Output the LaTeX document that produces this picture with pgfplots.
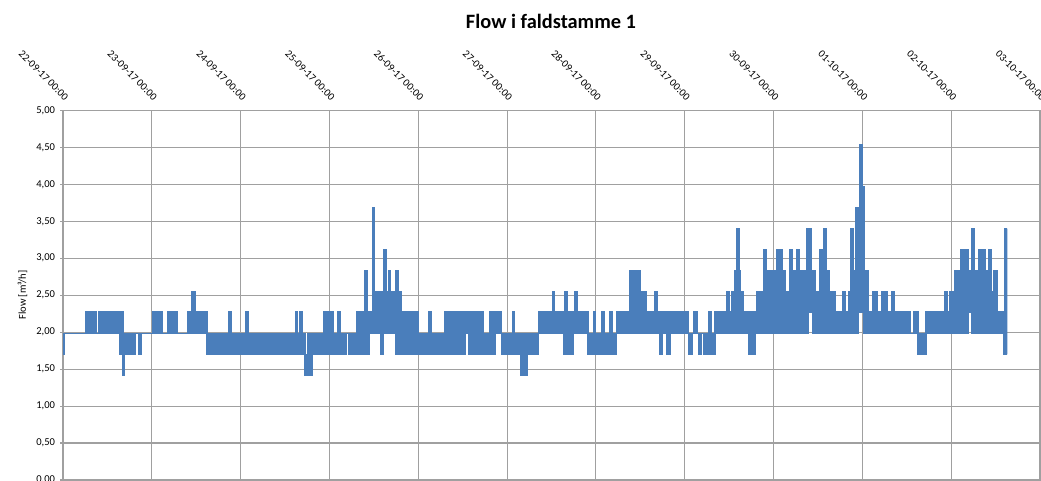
\documentclass[border=0pt]{standalone}
\usepackage{fontspec}
\setmainfont{Carlito}
\usepackage{pgfplots}
\pgfplotsset{compat=1.18}
\usepackage{pgfplotstable}
\usepgfplotslibrary{fillbetween}
\definecolor{flowblue}{HTML}{4A7EBB}
\definecolor{gridgray}{HTML}{A0A0A0}
% envelope of the flow series: segment start (days from 22-09-17 00:00), lowest and highest value
\pgfplotstableread{
x lo hi
0.000 1.70 1.98
0.011 1.98 1.98
0.259 1.98 2.27
0.372 1.98 1.98
0.405 1.98 2.27
0.642 1.70 1.98
0.653 1.70 2.27
0.676 1.42 1.98
0.693 1.70 1.98
0.811 1.98 1.98
0.856 1.70 1.98
0.878 1.98 1.98
1.014 1.98 2.27
1.115 1.98 1.98
1.182 1.98 2.27
1.284 1.98 1.98
1.408 1.98 2.27
1.453 1.98 2.55
1.486 1.98 2.27
1.622 1.70 1.98
1.869 1.70 2.27
1.892 1.70 1.98
2.061 1.70 2.27
2.089 1.70 1.98
2.620 1.70 2.27
2.643 1.70 1.98
2.669 1.70 2.27
2.695 1.70 1.98
2.717 1.42 1.98
2.731 1.42 1.70
2.759 1.42 1.98
2.807 1.70 1.98
2.939 1.70 2.27
3.044 1.70 1.98
3.097 1.70 2.27
3.123 1.70 1.98
3.195 1.98 1.98
3.213 1.70 1.98
3.311 1.70 2.27
3.401 1.70 2.83
3.429 1.70 2.27
3.449 1.98 2.27
3.483 1.98 3.68
3.510 1.98 2.55
3.578 1.70 2.55
3.607 1.98 2.55
3.615 1.98 3.12
3.641 1.98 2.55
3.668 1.98 2.83
3.690 1.98 2.55
3.750 1.70 2.83
3.776 1.70 2.55
3.814 1.70 2.27
4.001 1.70 1.98
4.122 1.70 2.27
4.144 1.70 1.98
4.302 1.70 2.27
4.434 1.98 2.27
4.452 1.70 2.27
4.527 1.98 2.27
4.564 1.70 2.27
4.733 1.70 1.98
4.809 1.70 2.27
4.865 1.98 2.27
4.940 1.70 1.98
5.060 1.70 2.27
5.082 1.70 1.98
5.158 1.42 1.98
5.195 1.42 1.70
5.211 1.42 1.98
5.229 1.70 1.98
5.353 1.98 2.27
5.510 1.98 2.55
5.533 1.98 2.27
5.634 1.70 2.27
5.653 1.70 2.55
5.679 1.70 2.27
5.747 1.98 2.27
5.766 1.98 2.55
5.796 1.98 2.27
5.909 1.70 1.98
5.972 1.70 2.27
5.991 1.70 1.98
6.066 1.70 2.27
6.092 1.70 1.98
6.152 1.70 2.27
6.179 1.70 1.98
6.235 1.98 2.27
6.385 1.98 2.83
6.419 1.98 2.55
6.441 1.98 2.83
6.498 1.98 2.55
6.520 1.98 2.27
6.535 1.98 2.55
6.562 1.98 2.27
6.659 1.98 2.55
6.693 1.98 2.27
6.723 1.70 2.27
6.742 1.98 2.27
6.798 1.70 2.27
6.836 1.98 2.27
7.042 1.70 1.98
7.080 1.98 1.98
7.098 1.98 2.27
7.143 1.98 1.98
7.154 1.70 1.98
7.181 1.98 1.98
7.211 1.70 1.98
7.271 1.70 2.27
7.294 1.70 1.98
7.342 1.98 2.27
7.474 1.98 2.55
7.497 1.98 2.27
7.530 1.98 2.55
7.568 1.98 2.83
7.587 1.98 3.40
7.613 1.98 2.83
7.624 1.98 2.55
7.661 1.98 2.27
7.717 1.70 2.27
7.793 1.98 2.27
7.812 1.98 2.55
7.838 1.98 2.27
7.849 1.98 2.55
7.894 1.98 3.12
7.917 1.98 2.83
8.037 1.98 3.12
8.093 1.98 2.83
8.131 1.98 2.55
8.187 1.98 3.12
8.213 1.98 2.83
8.263 1.98 3.12
8.288 1.98 2.83
8.375 1.98 3.40
8.393 2.27 3.40
8.420 2.27 2.83
8.442 1.98 2.83
8.468 1.98 2.55
8.517 1.98 3.12
8.544 1.98 2.83
8.562 1.98 3.40
8.589 1.98 2.83
8.626 1.98 2.55
8.694 1.98 2.27
8.780 1.98 2.55
8.806 1.98 2.27
8.843 1.98 2.55
8.870 1.98 3.40
8.900 1.98 2.83
8.930 1.98 3.68
8.953 2.27 3.40
8.975 2.27 4.53
8.998 2.27 3.97
9.020 1.98 2.83
9.069 1.98 2.27
9.118 1.98 2.55
9.163 1.98 2.27
9.220 1.98 2.55
9.276 1.98 2.27
9.332 1.98 2.55
9.358 1.98 2.27
9.426 1.98 1.98
9.445 1.98 2.27
9.538 1.98 1.98
9.575 1.98 2.27
9.625 1.70 1.98
9.718 1.98 2.27
9.924 1.98 2.55
9.951 1.98 2.27
9.980 1.98 2.55
10.045 1.98 2.83
10.109 1.98 3.12
10.194 2.27 2.83
10.233 1.98 3.40
10.259 1.98 2.83
10.289 2.27 2.83
10.307 1.98 3.12
10.334 1.98 2.83
10.357 1.98 3.12
10.383 1.98 2.83
10.420 1.98 3.12
10.447 1.98 2.55
10.476 1.98 2.83
10.514 1.98 2.27
10.589 1.70 2.27
10.608 1.70 3.40
10.634 1.70 3.40
}\flowdata
\begin{document}
\begin{tikzpicture}
\begin{axis}[
  at={(1.575cm,0cm)}, anchor=south west,
  scale only axis, width=24.425cm, height=9.24cm,
  xmin=0, xmax=11, ymin=0, ymax=5,
  xtick={0,1,2,3,4,5,6,7,8,9,10,11},
  xticklabels={22-09-17 00:00,23-09-17 00:00,24-09-17 00:00,25-09-17 00:00,26-09-17 00:00,27-09-17 00:00,28-09-17 00:00,29-09-17 00:00,30-09-17 00:00,01-10-17 00:00,02-10-17 00:00,03-10-17 00:00},
  xticklabel pos=upper,
  xticklabel style={rotate=-45, anchor=east, font=\fontsize{7.5}{9}\selectfont, xshift=0.03cm, yshift=0.22cm},
  ytick={0,0.5,1,1.5,2,2.5,3,3.5,4,4.5,5},
  yticklabel style={font=\fontsize{7.5}{9}\selectfont},
  y tick label style={/pgf/number format/.cd, fixed, fixed zerofill, precision=2, use comma, assume math mode=true},
  grid=major,
  major grid style={gridgray, line width=0.8pt},
  axis line style={gridgray, line width=0.8pt},
  xtick style={draw=none},
  ytick style={gridgray, line width=0.8pt},
  tick align=outside, major tick length=0.075cm,
  ylabel={Flow [m³/h]},
  ylabel style={at={(axis description cs:-0.0415,0.5)}, anchor=center, font=\fontsize{7.5}{9}\selectfont},
]
\addplot[name path=hi, const plot, flowblue, line width=1pt] table[x=x, y=hi] {\flowdata};
\addplot[name path=lo, const plot, flowblue, line width=1pt] table[x=x, y=lo] {\flowdata};
\addplot[fill=flowblue, draw=none] fill between[of=hi and lo];
\end{axis}
\node[font=\fontsize{14.5}{17}\selectfont\bfseries, anchor=base] at (13.775cm,11.275cm) {Flow i faldstamme 1};
\pgfresetboundingbox
\path[use as bounding box] (0,0) rectangle (26.025cm,12cm);
\end{tikzpicture}
\end{document}
